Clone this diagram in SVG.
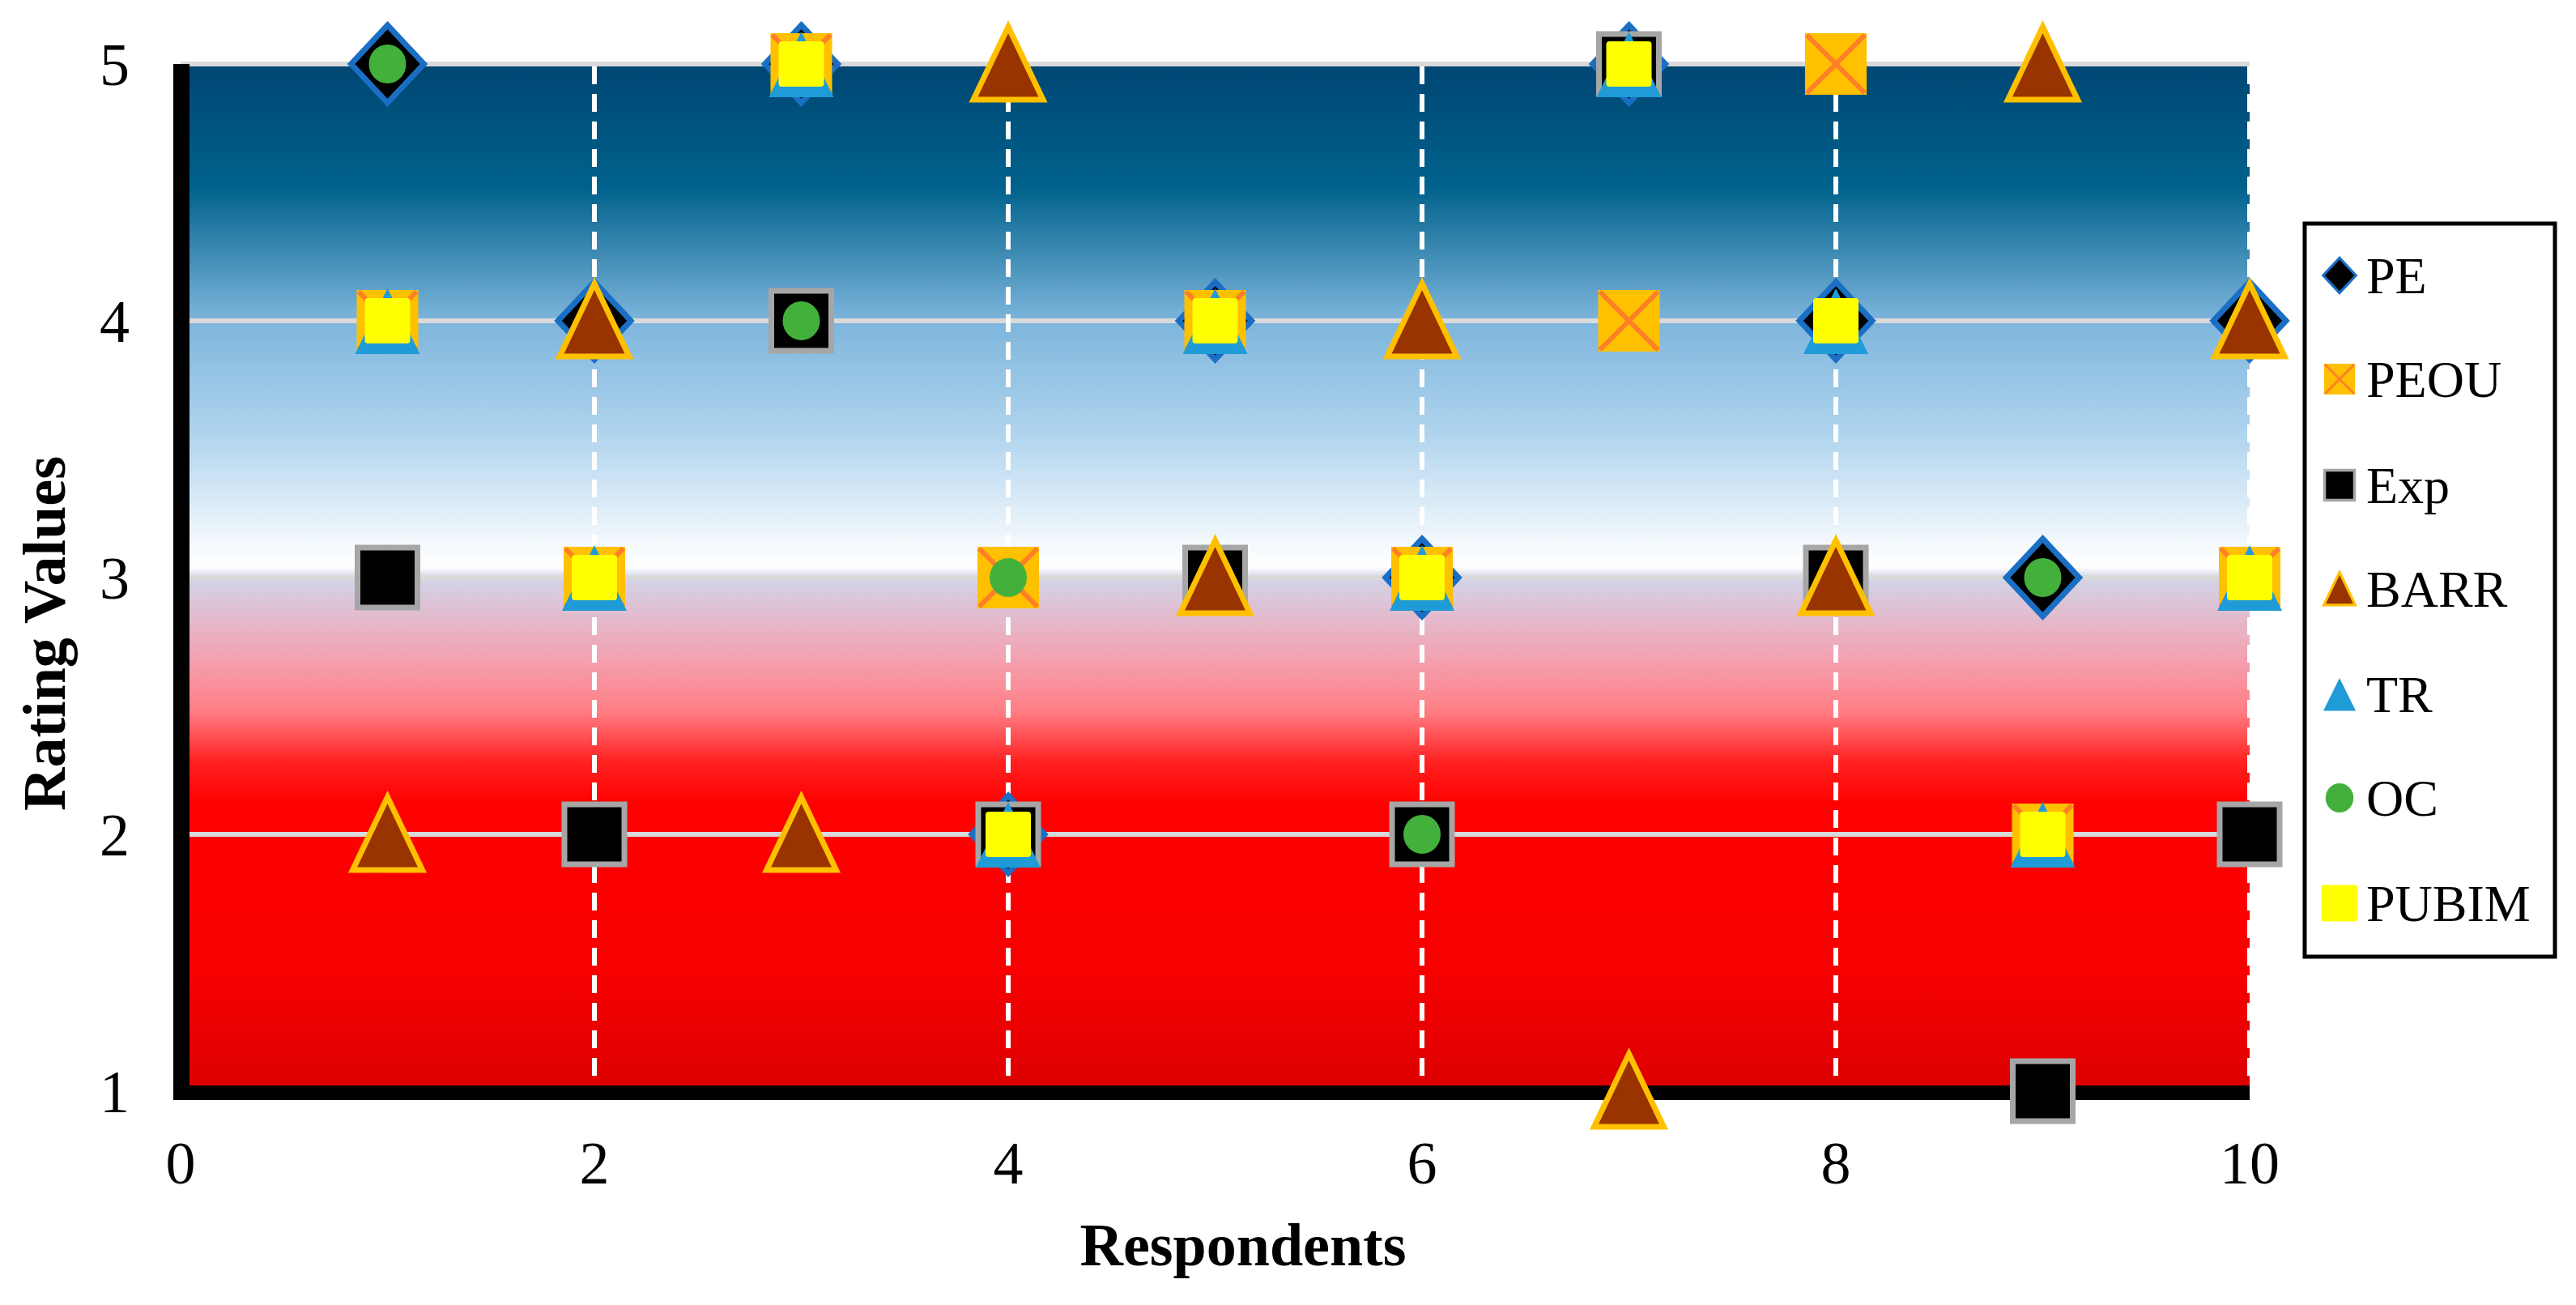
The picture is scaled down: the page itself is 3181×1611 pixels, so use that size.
<svg xmlns="http://www.w3.org/2000/svg" xmlns:xlink="http://www.w3.org/1999/xlink" width="3181" height="1611" viewBox="0 0 3181 1611">
<style>
.tick{font-family:"Liberation Serif",serif;font-size:74px;fill:#000}
.title{font-family:"Liberation Serif",serif;font-size:74px;font-weight:bold;fill:#000}
.leg{font-family:"Liberation Serif",serif;font-size:64px;fill:#000}
.hg{stroke:#d9d9d9;stroke-width:6}
.vg{stroke:#fff;stroke-width:6;stroke-dasharray:22,12}
</style>
<defs>
<linearGradient id="bg" x1="0" y1="0" x2="0" y2="1">
<stop offset="0" stop-color="#004673"/>
<stop offset="0.12" stop-color="#00628c"/>
<stop offset="0.25" stop-color="#7db5dc"/>
<stop offset="0.36" stop-color="#b0d4ee"/>
<stop offset="0.47" stop-color="#f6fafd"/>
<stop offset="0.49" stop-color="#ffffff"/>
<stop offset="0.5" stop-color="#d2d4e8"/>
<stop offset="0.58" stop-color="#f4a0b0"/>
<stop offset="0.63" stop-color="#ff7e84"/>
<stop offset="0.68" stop-color="#ff2020"/>
<stop offset="0.72" stop-color="#ff0000"/>
<stop offset="0.88" stop-color="#f70000"/>
<stop offset="1" stop-color="#dc0000"/>
</linearGradient>
<g id="PE"><polygon points="0,-48 45,0 0,48 -45,0" fill="#000" stroke="#1a6fc4" stroke-width="7"/></g>
<g id="PEOU"><rect x="-38" y="-38" width="76" height="76" fill="#ffc000"/><path d="M-36,-36L36,36M36,-36L-36,36" stroke="#ff7f27" stroke-width="6"/></g>
<g id="Exp"><rect x="-37" y="-37" width="74" height="74" fill="#000" stroke="#a6a6a6" stroke-width="7"/></g>
<g id="BARR"><polygon points="0,-46 43,44 -43,44" fill="#993300" stroke="#ffc000" stroke-width="7" stroke-linejoin="miter"/></g>
<g id="TR"><polygon points="0,-40 40,41 -40,41" fill="#1f9bd7"/></g>
<g id="OC"><ellipse cx="0" cy="0" rx="23" ry="24" fill="#44b03c"/></g>
<g id="PUBIM"><rect x="-28" y="-28" width="56" height="56" rx="4" fill="#ffff00"/></g>
</defs>
<rect width="3181" height="1611" fill="#fff"/>
<g id="plot">
<rect x="223" y="79" width="2555" height="1268" fill="url(#bg)"/>
<line class="hg" x1="223" y1="79" x2="2778" y2="79"/>
<line class="hg" x1="223" y1="396" x2="2778" y2="396"/>
<line class="hg" x1="223" y1="713" x2="2778" y2="713"/>
<line class="hg" x1="223" y1="1030" x2="2778" y2="1030"/>
<line class="vg" x1="734" y1="82" x2="734" y2="1340"/>
<line class="vg" x1="1245" y1="82" x2="1245" y2="1340"/>
<line class="vg" x1="1756" y1="82" x2="1756" y2="1340"/>
<line class="vg" x1="2267" y1="82" x2="2267" y2="1340"/>
<line class="vg" x1="2778" y1="82" x2="2778" y2="1340"/>
<rect x="214" y="79" width="20" height="1279" fill="#000"/>
<rect x="214" y="1340" width="2564" height="18" fill="#000"/>
</g>
<g id="axes">
<text class="tick" x="160" y="105" text-anchor="end">5</text>
<text class="tick" x="160" y="422" text-anchor="end">4</text>
<text class="tick" x="160" y="739" text-anchor="end">3</text>
<text class="tick" x="160" y="1056" text-anchor="end">2</text>
<text class="tick" x="160" y="1373" text-anchor="end">1</text>
<text class="tick" x="223" y="1461" text-anchor="middle">0</text>
<text class="tick" x="734" y="1461" text-anchor="middle">2</text>
<text class="tick" x="1245" y="1461" text-anchor="middle">4</text>
<text class="tick" x="1756" y="1461" text-anchor="middle">6</text>
<text class="tick" x="2267" y="1461" text-anchor="middle">8</text>
<text class="tick" x="2778" y="1461" text-anchor="middle">10</text>
<text class="title" x="1535" y="1562" text-anchor="middle">Respondents</text>
<text class="title" transform="translate(80,782) rotate(-90)" text-anchor="middle">Rating Values</text>
</g>
<g id="series-PE">
<use xlink:href="#PE" x="478.5" y="79"/><use xlink:href="#PE" x="734" y="396"/><use xlink:href="#PE" x="989.5" y="79"/><use xlink:href="#PE" x="1245" y="1030"/><use xlink:href="#PE" x="1500.5" y="396"/><use xlink:href="#PE" x="1756" y="713"/><use xlink:href="#PE" x="2011.5" y="79"/><use xlink:href="#PE" x="2267" y="396"/><use xlink:href="#PE" x="2522.5" y="713"/><use xlink:href="#PE" x="2778" y="396"/>
</g>
<g id="series-PEOU">
<use xlink:href="#PEOU" x="478.5" y="396"/><use xlink:href="#PEOU" x="734" y="713"/><use xlink:href="#PEOU" x="989.5" y="79"/><use xlink:href="#PEOU" x="1245" y="713"/><use xlink:href="#PEOU" x="1500.5" y="396"/><use xlink:href="#PEOU" x="1756" y="713"/><use xlink:href="#PEOU" x="2011.5" y="396"/><use xlink:href="#PEOU" x="2267" y="79"/><use xlink:href="#PEOU" x="2522.5" y="1030"/><use xlink:href="#PEOU" x="2778" y="713"/>
</g>
<g id="series-Exp">
<use xlink:href="#Exp" x="478.5" y="713"/><use xlink:href="#Exp" x="734" y="1030"/><use xlink:href="#Exp" x="989.5" y="396"/><use xlink:href="#Exp" x="1245" y="1030"/><use xlink:href="#Exp" x="1500.5" y="713"/><use xlink:href="#Exp" x="1756" y="1030"/><use xlink:href="#Exp" x="2011.5" y="79"/><use xlink:href="#Exp" x="2267" y="713"/><use xlink:href="#Exp" x="2522.5" y="1347"/><use xlink:href="#Exp" x="2778" y="1030"/>
</g>
<g id="series-BARR">
<use xlink:href="#BARR" x="478.5" y="1030"/><use xlink:href="#BARR" x="734" y="396"/><use xlink:href="#BARR" x="989.5" y="1030"/><use xlink:href="#BARR" x="1245" y="79"/><use xlink:href="#BARR" x="1500.5" y="713"/><use xlink:href="#BARR" x="1756" y="396"/><use xlink:href="#BARR" x="2011.5" y="1347"/><use xlink:href="#BARR" x="2267" y="713"/><use xlink:href="#BARR" x="2522.5" y="79"/><use xlink:href="#BARR" x="2778" y="396"/>
</g>
<g id="series-TR">
<use xlink:href="#TR" x="478.5" y="396"/><use xlink:href="#TR" x="734" y="713"/><use xlink:href="#TR" x="989.5" y="79"/><use xlink:href="#TR" x="1245" y="1030"/><use xlink:href="#TR" x="1500.5" y="396"/><use xlink:href="#TR" x="1756" y="713"/><use xlink:href="#TR" x="2011.5" y="79"/><use xlink:href="#TR" x="2267" y="396"/><use xlink:href="#TR" x="2522.5" y="1030"/><use xlink:href="#TR" x="2778" y="713"/>
</g>
<g id="series-OC">
<use xlink:href="#OC" x="478.5" y="79"/><use xlink:href="#OC" x="989.5" y="396"/><use xlink:href="#OC" x="1245" y="713"/><use xlink:href="#OC" x="1756" y="1030"/><use xlink:href="#OC" x="2522.5" y="713"/>
</g>
<g id="series-PUBIM">
<use xlink:href="#PUBIM" x="478.5" y="396"/><use xlink:href="#PUBIM" x="734" y="713"/><use xlink:href="#PUBIM" x="989.5" y="79"/><use xlink:href="#PUBIM" x="1245" y="1030"/><use xlink:href="#PUBIM" x="1500.5" y="396"/><use xlink:href="#PUBIM" x="1756" y="713"/><use xlink:href="#PUBIM" x="2011.5" y="79"/><use xlink:href="#PUBIM" x="2267" y="396"/><use xlink:href="#PUBIM" x="2522.5" y="1030"/><use xlink:href="#PUBIM" x="2778" y="713"/>
</g>
<g id="legend">
<rect x="2846" y="276" width="309" height="905" fill="#fff" stroke="#000" stroke-width="5"/>
<use xlink:href="#PE" transform="translate(2889,340) scale(0.45)"/>
<text class="leg" x="2922" y="362">PE</text>
<use xlink:href="#PEOU" transform="translate(2889,468) scale(0.5)"/>
<text class="leg" x="2922" y="490">PEOU</text>
<use xlink:href="#Exp" transform="translate(2889,599) scale(0.5)"/>
<text class="leg" x="2922" y="621">Exp</text>
<use xlink:href="#BARR" transform="translate(2889,727) scale(0.45)"/>
<text class="leg" x="2922" y="749">BARR</text>
<use xlink:href="#TR" transform="translate(2889,857) scale(0.5)"/>
<text class="leg" x="2922" y="879">TR</text>
<use xlink:href="#OC" transform="translate(2889,985) scale(0.75)"/>
<text class="leg" x="2922" y="1007">OC</text>
<use xlink:href="#PUBIM" transform="translate(2889,1115) scale(0.8)"/>
<text class="leg" x="2922" y="1137">PUBIM</text>
</g>
</svg>
